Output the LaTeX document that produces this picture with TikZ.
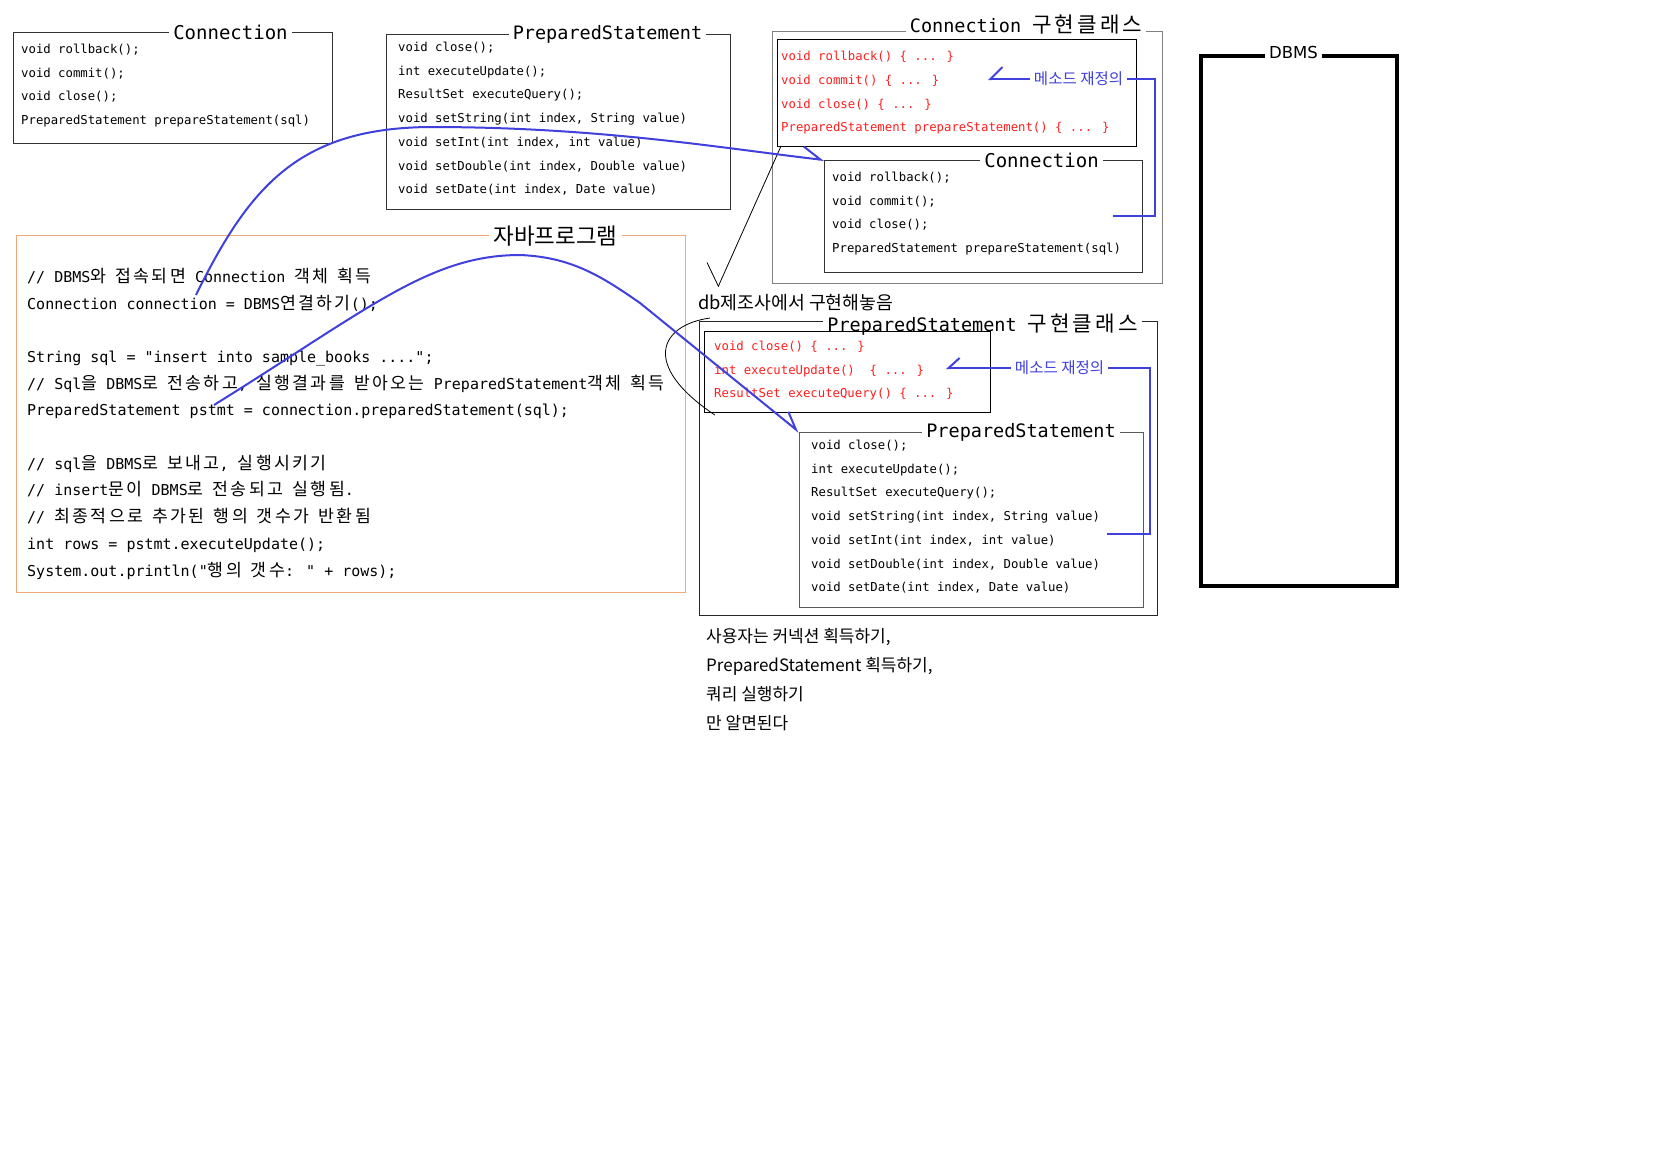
\documentclass[tikz,border=0pt]{standalone}
\usepackage{fontspec}
\usepackage{tikz}
\usetikzlibrary{arrows.meta,calc}
\newfontfamily\codefont{DejaVu Sans Mono}
\newfontfamily\krcode[Scale=1.15,LetterSpace=14]{Noto Sans CJK KR}
\newfontfamily\krfont{Noto Sans CJK KR}
\newfontfamily\labelfont{DejaVu Sans}
\newcommand\ko[1]{{\krcode #1}}
\definecolor{JdbcRed}{HTML}{FF1E1E}
\definecolor{JdbcBlue}{HTML}{4040DC}
\definecolor{JdbcOrange}{HTML}{F0A878}

\begin{document}
\begin{tikzpicture}[x=1pt,y=-1pt,
    box/.style={draw=black!80,line width=1.1pt,inner sep=0pt,anchor=north west},
    title/.style={fill=white,inner xsep=4pt,inner ysep=1pt,anchor=base,font=\codefont\fontsize{18.5}{20}\selectfont},
    code/.style={inner sep=0pt,anchor=north west,align=left,execute at begin node={\strut},font=\codefont\fontsize{12.3}{23.7}\selectfont},
    javacode/.style={code,font=\codefont\fontsize{15}{26.7}\selectfont},
    redef/.style={text=JdbcBlue,inner xsep=4pt,inner ysep=2pt,font=\krfont\fontsize{15.5}{18}\selectfont},
    link/.style={draw=JdbcBlue,line width=2pt},
    note/.style={draw=black,line width=0.8pt}]
  \fill[white] (0,0) rectangle (1672,1168);
  \useasboundingbox (0,0) rectangle (1672,1168);

  % interfaces
  \node[box,minimum width=319pt,minimum height=111pt] (connif) at (13,32) {};
  \node[title,font=\codefont\fontsize{19}{20}\selectfont] (connift) at (230.5,39) {Connection};
  \node[code] (connifc) at (21,43.9) {void rollback();\\void commit();\\void close();\\PreparedStatement prepareStatement(sql)};

  \node[box,minimum width=344pt,minimum height=175pt] (psif) at (386,34) {};
  \node[title] (psift) at (607.5,39.3) {PreparedStatement};
  \node[code] (psifc) at (398,41.9) {void close();\\int executeUpdate();\\ResultSet executeQuery();\\void setString(int index, String value)\\void setInt(int index, int value)\\void setDouble(int index, Double value)\\void setDate(int index, Date value)};

  % Connection implementation
  \node[box,draw=black!50,minimum width=390pt,minimum height=252pt] (connimpl) at (772,31) {};
  \node[title] (connimplt) at (1026,32.3) {Connection \ko{구현클래스}};
  \node[box,draw=black,minimum width=359pt,minimum height=107pt] (connred) at (777,39) {};
  \node[code,text=JdbcRed] (connredc) at (781,51.2) {void rollback() \{ ... \}\\void commit() \{ ... \}\\void close() \{ ... \}\\PreparedStatement prepareStatement() \{ ... \}};
  \node[box,minimum width=318pt,minimum height=112pt] (conninner) at (824,160) {};
  \node[title,font=\codefont\fontsize{19}{20}\selectfont] (conninnert) at (1041.5,167) {Connection};
  \node[code] (conninnerc) at (832,171.9) {void rollback();\\void commit();\\void close();\\PreparedStatement prepareStatement(sql)};

  \node[redef] (redef1) at (1078.5,79) {메소드 재정의};
  \coordinate (redef1tip) at (988,79);
  \coordinate (redef1corner) at (1155,216);
  \coordinate (redef1end) at (1113,216);
  \draw[link,-{Straight Barb[right,length=12pt,width=24pt]}] (redef1.west) -- (redef1tip);
  \draw[link] (redef1.east) -| (redef1corner) -- (redef1end);

  % java program
  \node[box,draw=JdbcOrange,minimum width=669pt,minimum height=357pt] (javaprog) at (15.6,235) {};
  \node[title,font=\krfont\fontsize{22.5}{24}\selectfont] (javaprogt) at (555.5,244) {자바프로그램};
  \node[javacode] (javacode) at (27,267.8) {// DBMS\ko{와} \ko{접속되면} Connection \ko{객체} \ko{획득}\\
    Connection connection = DBMS\ko{연결하기}();\\
    \mbox{}\\
    String sql = "insert into sample\_books ....";\\
    // Sql\ko{을} DBMS\ko{로} \ko{전송하고}, \ko{실행결과를} \ko{받아오는} PreparedStatement\ko{객체} \ko{획득}\\
    PreparedStatement pstmt = connection.preparedStatement(sql);\\
    \mbox{}\\
    // sql\ko{을} DBMS\ko{로} \ko{보내고}, \ko{실행시키기}\\
    // insert\ko{문이} DBMS\ko{로} \ko{전송되고} \ko{실행됨}.\\
    // \ko{최종적으로} \ko{추가된} \ko{행의} \ko{갯수가} \ko{반환됨}\\
    int rows = pstmt.executeUpdate();\\
    System.out.println("\ko{행의} \ko{갯수}: " + rows);};
  \coordinate (connvar) at (196,295);
  \coordinate (pstmtvar) at (214,405);

  % PreparedStatement implementation
  \node[box,draw=black!85,minimum width=458pt,minimum height=294pt] (psimpl) at (699,321) {};
  \node[title] (psimplt) at (982.5,331.5) {PreparedStatement \ko{구현클래스}};
  \node[box,draw=black,minimum width=286pt,minimum height=81pt] (psred) at (704,331) {};
  \node[code,text=JdbcRed] (psredc) at (714,340.9) {void close() \{ ... \}\\int executeUpdate()\ \ \{ ... \}\\ResultSet executeQuery() \{ ... \}};
  \node[box,draw=black!65,minimum width=344pt,minimum height=175pt] (psinner) at (799,432) {};
  \node[title] (psinnert) at (1021,437.3) {PreparedStatement};
  \node[code] (psinnerc) at (811,439.9) {void close();\\int executeUpdate();\\ResultSet executeQuery();\\void setString(int index, String value)\\void setInt(int index, int value)\\void setDouble(int index, Double value)\\void setDate(int index, Date value)};

  \node[redef] (redef2) at (1059.5,368) {메소드 재정의};
  \coordinate (redef2tip) at (946,368);
  \coordinate (redef2corner) at (1150,534);
  \coordinate (redef2end) at (1107,534);
  \draw[link,-{Straight Barb[right,length=11pt,width=20pt]}] (redef2.west) -- (redef2tip);
  \draw[link] (redef2.east) -| (redef2corner) -- (redef2end);

  % DBMS
  \node[box,draw=black,line width=3.5pt,minimum width=196pt,minimum height=530pt] (dbms) at (1199,54) {};
  \node[title,font=\labelfont\fontsize{16.5}{18}\selectfont] (dbmst) at (1293.5,58) {DBMS};

  % notes
  \node[anchor=base west,inner sep=0pt,font=\krfont\fontsize{18.3}{20}\selectfont] (dbnote) at (698,309) {db제조사에서 구현해놓음};
  \coordinate (dbtip) at (718,287);
  \coordinate (dbcurve) at (710,318);
  \draw[note,-{Straight Barb[right,length=17pt,width=40pt]}] ($(connred.south west)+(4,-1)$) -- (dbtip);
  \draw[note] (dbcurve) .. controls (660,325) and (640,365) .. ($(psred.south west)+(11,2)$);

  \node[anchor=north west,inner sep=0pt,align=left,execute at begin node={\strut},font=\krfont\fontsize{17}{29}\selectfont] (usernote) at (706,628) {사용자는 커넥션 획득하기,\\PreparedStatement 획득하기,\\쿼리 실행하기\\만 알면된다};

  % links from the program
  \draw[link,-{Straight Barb[left,length=18pt,width=22pt]}] (connvar) .. controls (250,185) and (300,128) .. (430,127) .. controls (600,127) and (720,148) .. (conninner.north west);
  \draw[link,-{Straight Barb[left,length=17pt,width=18pt]}] (pstmtvar) .. controls (370,308) and (430,255) .. (520,255) .. controls (570,257) and (600,275) .. (640,303) -- (psinner.north west);
\end{tikzpicture}
\end{document}
